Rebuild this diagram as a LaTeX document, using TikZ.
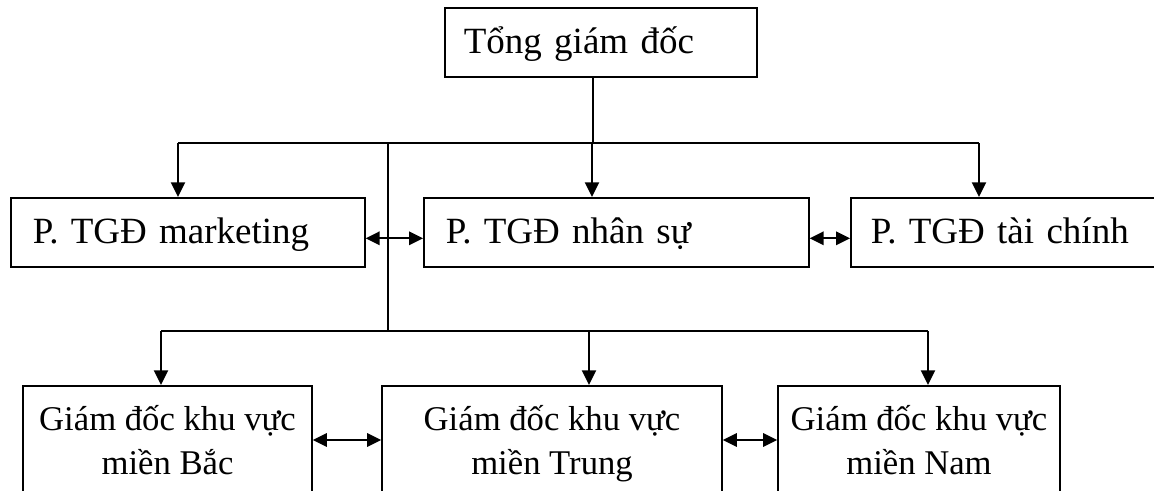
\documentclass[tikz,border=0pt]{standalone}
\usepackage{fontspec}
\setmainfont{Liberation Serif}
\usetikzlibrary{arrows.meta,calc}
\begin{document}
\begin{tikzpicture}[x=0.75pt,y=-0.75pt,
  box/.style={draw, line width=1.2pt, inner ysep=0pt},
  % single-line box, text set flush left
  lbox/.style={box, anchor=north west, align=left,
    font=\fontsize{27.75pt}{33pt}\selectfont,
    text height=34.5pt, text depth=17.25pt},
  % two-line box, text centred
  cbox/.style={box, anchor=north, inner xsep=0pt, minimum height=87.3pt,
    font=\fontsize{26pt}{33pt}\selectfont},
  conn/.style={line width=1.7pt},
  arr/.style={conn, -{Triangle[length=11pt,width=10.5pt]}},
  darr/.style={conn, {Triangle[length=10.5pt,width=10pt]}-{Triangle[length=10.5pt,width=10pt]}}
]
\clip (0,0) rectangle (1154,490);

% top level
\node[lbox, inner xsep=14.25pt, text width=205.5pt] (ceo) at (444,7) {\mbox{Tổng giám đốc}};

% deputies
\node[lbox, inner xsep=16.5pt, text width=232.5pt] (mk) at (10,197) {\mbox{P. TGĐ marketing}};
\node[lbox, inner xsep=16.5pt, text width=255.75pt] (ns) at (423,197) {\mbox{P. TGĐ nhân sự}};
\node[lbox, inner xsep=15pt, text width=210pt] (tc) at (850,197) {\mbox{P. TGĐ tài chính}};

% regional directors
\node[cbox, minimum width=216.75pt] (bac) at (167.5,385)
  {\begin{tabular}{@{}c@{}}Giám đốc khu vực\\miền Bắc\end{tabular}};
\node[cbox, minimum width=255pt] (trung) at (552,385)
  {\begin{tabular}{@{}c@{}}Giám đốc khu vực\\miền Trung\end{tabular}};
\node[cbox, minimum width=211.5pt] (nam) at (919,385)
  {\begin{tabular}{@{}c@{}}Giám đốc khu vực\\miền Nam\end{tabular}};

% bus junctions
\coordinate (drop) at (593,143);
\coordinate (busL) at (178,143);
\coordinate (busM) at (592,143);
\coordinate (busR) at (979,143);
\coordinate (spine) at (388,143);
\coordinate (spineB) at (388,331);
\coordinate (bbL) at (161,331);
\coordinate (bbM) at (589,331);
\coordinate (bbR) at (928,331);

% upper tree
\draw[conn] (ceo.south -| drop) -- (drop);
\draw[conn] (busL) -- (busR);
\draw[arr] (busL) -- (busL |- mk.north);
\draw[arr] (busM) -- (busM |- ns.north);
\draw[arr] (busR) -- (busR |- tc.north);

% lower tree
\draw[line width=1.2pt] (spine) -- (spineB);
\draw[conn] (bbL) -- (bbR);
\draw[arr] (bbL) -- (bbL |- bac.north);
\draw[arr] (bbM) -- (bbM |- trung.north);
\draw[arr] (bbR) -- (bbR |- nam.north);

% lateral links
\draw[darr] ($(mk.east)+(0,6)$) -- ($(ns.west)+(0,6)$);
\draw[darr] ($(ns.east)+(0,6)$) -- ($(tc.west)+(0,6)$);
\draw[darr] ($(bac.east)+(0,-4)$) -- ($(trung.west)+(0,-4)$);
\draw[darr] ($(trung.east)+(0,-4)$) -- ($(nam.west)+(0,-4)$);
\end{tikzpicture}
\end{document}
